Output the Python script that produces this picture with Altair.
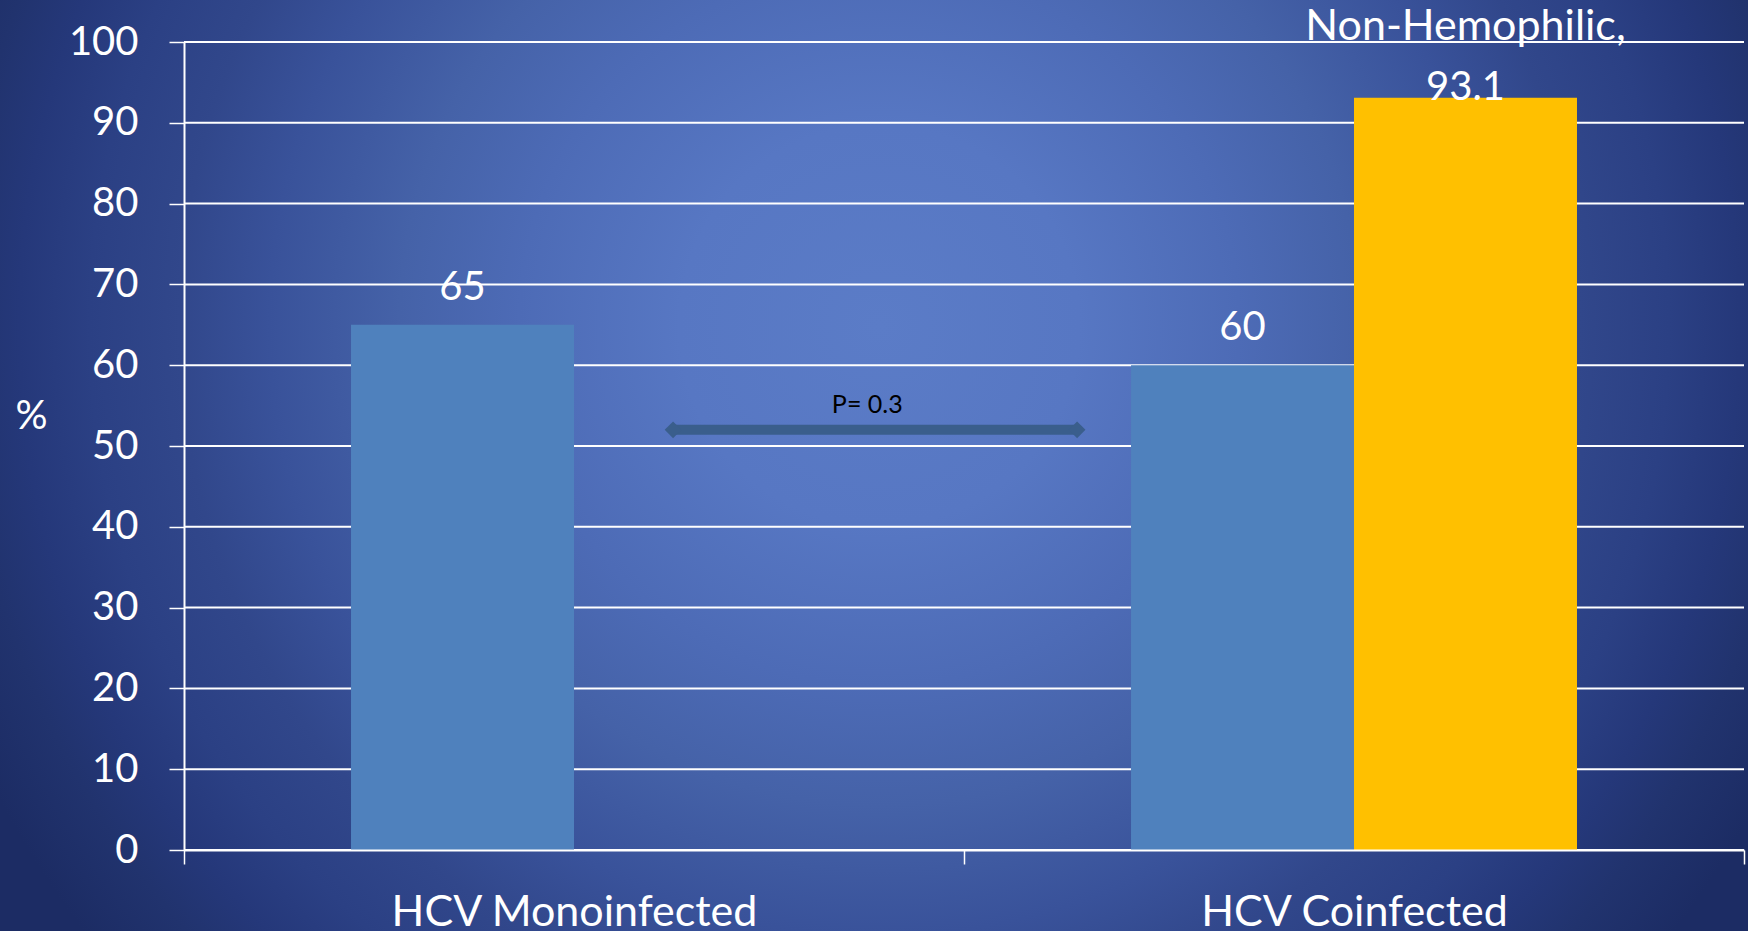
import altair as alt
import pandas as pd

# Response rates (%) by infection group and patient series
groups = ["HCV Monoinfected", "HCV Coinfected", "HCV Coinfected"]
series = ["Hemophilic", "Hemophilic", "Non-Hemophilic"]
values = [65, 60, 93.1]

group_order = ["HCV Monoinfected", "HCV Coinfected"]
series_order = ["Hemophilic", "Non-Hemophilic"]
series_colors = ["#4F81BD", "#FFC000"]
y_ticks = [0, 10, 20, 30, 40, 50, 60, 70, 80, 90, 100]

# Comparison arrow between the two groups (x in group-step units, y in %)
arrow_x = [0.627, 1.145]
arrow_y = [52, 52]
p_label = "P= 0.3"
p_label_x = 0.876

FONT = "Lato"
W, H = 1560, 808
PAD = {"left": 184, "top": 42, "right": 4, "bottom": 81}

bars_df = pd.DataFrame({"group": groups, "series": series, "value": values})
arrow_df = pd.DataFrame({"x": arrow_x, "y": arrow_y})
ptext_df = pd.DataFrame({"x": [p_label_x], "y": [arrow_y[0]], "label": [p_label]})
grid_df = pd.DataFrame({"value": y_ticks})

# Each group fills its whole step, so boundary ticks fall at the step edges
x_enc = alt.X(
    "group:N",
    sort=group_order,
    scale=alt.Scale(domain=group_order, paddingInner=0, paddingOuter=0),
    axis=alt.Axis(
        title=None,
        labelAngle=0,
        labelColor="white",
        labelFont=FONT,
        labelFontSize=43,
        labelPadding=61,
        labelBaseline="alphabetic",
        labelLimit=0,
        tickBand="extent",
        tickColor="white",
        tickSize=14,
        tickWidth=1.5,
        domainColor="white",
        domainWidth=2,
        grid=False,
        zindex=1,
    ),
)
# Within a group, the two series bars sit side by side around the centre
xoff_enc = alt.XOffset("series:N", scale=alt.Scale(domain=series_order, paddingInner=0, paddingOuter=0.749))
y_scale = alt.Scale(domain=[0, 100], nice=False)
y_enc = alt.Y(
    "value:Q",
    scale=y_scale,
    axis=alt.Axis(
        values=y_ticks,
        title="%",
        titleAngle=0,
        titleX=-153,
        titleY=374,
        titleAlign="center",
        titleBaseline="middle",
        titleColor="white",
        titleFont=FONT,
        titleFontSize=40,
        titleFontWeight="normal",
        labelColor="white",
        labelFont=FONT,
        labelFontSize=40,
        labelPadding=31,
        labelBaseline="middle",
        tickColor="white",
        tickSize=15,
        tickWidth=1.5,
        domainColor="white",
        domainWidth=2,
        grid=False,
        zindex=1,
    ),
)

# Slide-style radial background behind the whole chart
background = alt.Chart(pd.DataFrame({"k": [0]})).mark_rect(
    fill={
        "gradient": "radial",
        "x1": 0.503, "y1": 0.42, "r1": 0,
        "x2": 0.503, "y2": 0.42, "r2": 0.572,
        "stops": [
            {"offset": 0.0, "color": "#5B7CC7"},
            {"offset": 0.2, "color": "#5777C3"},
            {"offset": 0.36, "color": "#4D6BB6"},
            {"offset": 0.48, "color": "#4562A8"},
            {"offset": 0.61, "color": "#39529A"},
            {"offset": 0.7, "color": "#31478B"},
            {"offset": 0.79, "color": "#2B4084"},
            {"offset": 0.86, "color": "#25387A"},
            {"offset": 0.92, "color": "#21336E"},
            {"offset": 1.0, "color": "#1C2C64"},
        ],
    }
).encode(
    x=alt.value(-PAD["left"]),
    x2=alt.value(W + PAD["right"]),
    y=alt.value(-PAD["top"]),
    y2=alt.value(H + PAD["bottom"]),
)

# Horizontal gridlines sit behind the bars
gridlines = alt.Chart(grid_df).mark_rule(color="white", strokeWidth=2).encode(
    y=alt.Y("value:Q", scale=y_scale)
)

base = alt.Chart(bars_df)

bars = base.mark_bar().encode(
    x=x_enc,
    xOffset=xoff_enc,
    y=y_enc,
    color=alt.Color("series:N", scale=alt.Scale(domain=series_order, range=series_colors), legend=None),
)

label_x = alt.X("group:N", sort=group_order)

# Value above each bar of the first series
value_labels = base.transform_filter(alt.datum.series == "Hemophilic").mark_text(
    font=FONT, fontSize=40, color="white", baseline="alphabetic", dy=-25
).encode(x=label_x, xOffset="series:N", y="value:Q", text=alt.Text("value:Q"))

# Second series: name line and value line, kept inside the plot's top edge
named_series = base.transform_filter(alt.datum.series == "Non-Hemophilic").transform_calculate(
    name=alt.datum.series + ","
)
name_label = named_series.mark_text(
    font=FONT, fontSize=43, color="white", baseline="alphabetic", dy=-58
).encode(x=label_x, xOffset="series:N", y="value:Q", text="name:N")
named_value = named_series.mark_text(
    font=FONT, fontSize=40, color="white", baseline="alphabetic", dy=2
).encode(x=label_x, xOffset="series:N", y="value:Q", text=alt.Text("value:Q"))

group_layer = alt.layer(bars, value_labels, name_label, named_value)

arrow_x_scale = alt.Scale(domain=[0, 2], nice=False, zero=False)
shaft = alt.Chart(arrow_df).mark_line(color="#3A5E8C", strokeWidth=10, strokeCap="butt").encode(
    x=alt.X("x:Q", scale=arrow_x_scale, axis=None),
    y="y:Q",
)
heads = alt.Chart(arrow_df).mark_point(shape="diamond", size=280, filled=True, color="#3A5E8C", opacity=1).encode(
    x=alt.X("x:Q", scale=arrow_x_scale, axis=None),
    y="y:Q",
)
p_text = alt.Chart(ptext_df).mark_text(
    font=FONT, fontSize=25, color="black", baseline="alphabetic", dy=-17
).encode(
    x=alt.X("x:Q", scale=arrow_x_scale, axis=None),
    y="y:Q",
    text="label:N",
)
arrow_layer = alt.layer(shaft, heads, p_text)

chart = (
    alt.layer(background, gridlines, group_layer, arrow_layer)
    .resolve_scale(x="independent")
    .properties(width=W, height=H, padding=PAD, autosize=alt.AutoSizeParams(type="none"), background="#22356F")
    .configure_view(stroke=None)
)

chart.save("out.html", embed_options={"renderer": "svg", "actions": False})
